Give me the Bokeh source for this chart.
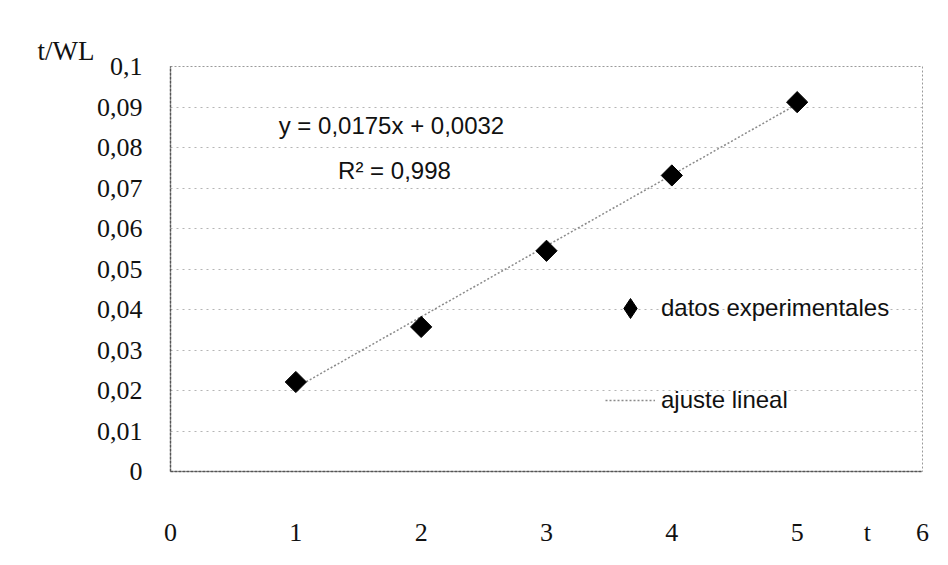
from bokeh.plotting import figure
from bokeh.models import (Range1d, FixedTicker, CustomJSTickFormatter, Label,
                          Legend, LegendItem)
from bokeh.embed import file_html
from bokeh.resources import INLINE

# ---- data ----
t_values = [1, 2, 3, 4, 5]
t_over_wl = [0.0221, 0.0357, 0.0545, 0.0731, 0.0912]
fit_slope = 0.0175
fit_intercept = 0.0032
fit_r2 = 0.998
x_ticks = [0, 1, 2, 3, 4, 5, 6]
x_tick_labels = ["0", "1", "2", "3", "4", "5", "6"]
x_title = "t"
x_title_pos = 5.56
y_title = "t/WL"
y_ticks = [0, 0.01, 0.02, 0.03, 0.04, 0.05, 0.06, 0.07, 0.08, 0.09, 0.1]
y_tick_labels = ["0", "0,01", "0,02", "0,03", "0,04", "0,05", "0,06", "0,07",
                 "0,08", "0,09", "0,1"]
series_names = ["datos experimentales", "ajuste lineal"]

SERIF = "Liberation Serif"
SANS = "Liberation Sans"

p = figure(width=932, height=549, output_backend="svg", toolbar_location=None,
           x_range=Range1d(0, 6), y_range=Range1d(0, 0.1),
           min_border_left=170, min_border_right=10, min_border_top=66,
           min_border_bottom=76)
p.background_fill_color = "white"
p.border_fill_color = "white"
p.outline_line_color = "#9a9a9a"
p.outline_line_dash = "2 2"
p.outline_line_width = 1

# y title at the top-left, as the figure title
p.title.text = y_title
p.title.text_font = SERIF
p.title.text_font_size = "27px"
p.title.text_font_style = "normal"
p.title.text_color = "#111111"
p.title.align = "left"
p.title.offset = -133
p.title.standoff = 2

fmt_js = ("const i = tv.findIndex(t => Math.abs(t - tick) < 1e-9);"
          "return i >= 0 ? tl[i] : '';")

# x axis: numeric ticks plus the axis title "t" placed between 5 and 6
xt_all = x_ticks + [x_title_pos]
xl_all = x_tick_labels + [x_title]
p.xaxis.ticker = FixedTicker(ticks=xt_all)
p.xaxis.formatter = CustomJSTickFormatter(args=dict(tv=xt_all, tl=xl_all), code=fmt_js)
p.yaxis.ticker = FixedTicker(ticks=y_ticks)
p.yaxis.formatter = CustomJSTickFormatter(args=dict(tv=y_ticks, tl=y_tick_labels), code=fmt_js)
for ax in (p.xaxis, p.yaxis):
    ax.major_tick_line_color = None
    ax.minor_tick_line_color = None
    ax.axis_line_color = "#555555"
    ax.axis_line_width = 1.5
    ax.axis_line_dash = "3 1"
    ax.major_label_text_font = SERIF
    ax.major_label_text_font_size = "26px"
    ax.major_label_text_color = "#111111"
p.xaxis.major_label_standoff = 40
p.yaxis.major_label_standoff = 22

p.xgrid.grid_line_color = None
p.ygrid.ticker = FixedTicker(ticks=y_ticks)
p.ygrid.grid_line_color = "#b5b5b5"
p.ygrid.grid_line_dash = "2 4"
p.ygrid.grid_line_width = 1

# trend line from fit coefficients
fit_x = [t_values[0], t_values[-1]]
fit_y = [fit_slope * x + fit_intercept for x in fit_x]
trend = p.line(fit_x, fit_y, line_color="#8a8a8a", line_width=1.5, line_dash="2 2")

# data points (diamonds: rotated squares)
p.scatter(t_values, t_over_wl, marker="square", size=15, angle=0.785398,
          fill_color="black", line_color="black")
# hidden legend proxy so the legend shows a diamond
pts_proxy = p.scatter(t_values, t_over_wl, marker="diamond", size=20,
                      fill_color="black", line_color="black", visible=False)

# legend
legend = Legend(items=[LegendItem(label=series_names[0], renderers=[pts_proxy]),
                       LegendItem(label=series_names[1], renderers=[trend])],
                location=(435, 46), padding=0, margin=0, spacing=42,
                glyph_width=50, glyph_height=50, label_height=30,
                label_standoff=6, label_text_font=SANS,
                label_text_font_size="24px", label_text_color="#111111",
                border_line_alpha=0, background_fill_alpha=0,
                inactive_fill_alpha=0, click_policy="none")
p.add_layout(legend)

# equation labels
eq_text = "y = {}x + {}".format(str(fit_slope).replace(".", ","),
                                 str(fit_intercept).replace(".", ","))
r2_text = "R² = {}".format(str(fit_r2).replace(".", ","))
p.add_layout(Label(x=1.763, y=0.0855, text=eq_text, text_align="center",
                   text_baseline="middle", text_font=SANS,
                   text_font_size="24px", text_color="#111111"))
p.add_layout(Label(x=1.787, y=0.0744, text=r2_text, text_align="center",
                   text_baseline="middle", text_font=SANS,
                   text_font_size="24px", text_color="#111111"))

open("out.html", "w").write(file_html(p, INLINE))
